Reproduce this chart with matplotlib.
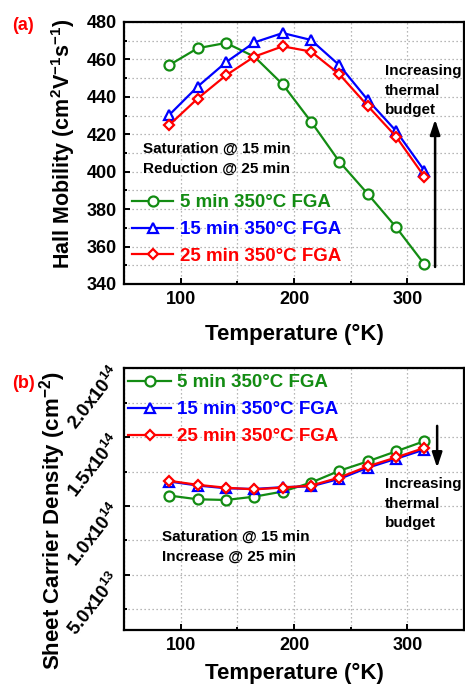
import matplotlib
matplotlib.use("Agg")
import matplotlib.pyplot as plt
from matplotlib.ticker import MultipleLocator, FixedLocator

plt.rcParams['font.family'] = ['Liberation Sans', 'DejaVu Sans']
plt.rcParams['font.weight'] = 'bold'
plt.rcParams['axes.labelweight'] = 'bold'
plt.rcParams['mathtext.fontset'] = 'custom'
plt.rcParams['mathtext.rm'] = 'Liberation Sans:bold'
plt.rcParams['mathtext.bf'] = 'Liberation Sans:bold'
plt.rcParams['mathtext.it'] = 'Liberation Sans:bold:italic'
plt.rcParams['mathtext.default'] = 'bf'

# ---------------- data ----------------
temps = [90, 115, 140, 165, 190, 215, 240, 265, 290, 315]

series_labels = ['5 min 350°C FGA', '15 min 350°C FGA', '25 min 350°C FGA']

mob_5 = [457.0, 466.0, 468.8, 461.5, 446.7, 426.8, 405.4, 388.2, 370.4, 350.6]
mob_15 = [430.4, 445.5, 458.5, 469.1, 474.1, 470.4, 456.9, 438.4, 421.8, 400.6]
mob_25 = [425.0, 439.1, 451.5, 461.5, 467.0, 464.2, 452.1, 435.2, 418.8, 397.4]

dens_5 = [1.076e14, 1.049e14, 1.044e14, 1.068e14, 1.105e14, 1.170e14, 1.256e14, 1.324e14, 1.397e14, 1.471e14]
dens_15 = [1.178e14, 1.149e14, 1.129e14, 1.124e14, 1.137e14, 1.143e14, 1.197e14, 1.278e14, 1.343e14, 1.410e14]
dens_25 = [1.183e14, 1.154e14, 1.133e14, 1.121e14, 1.134e14, 1.148e14, 1.207e14, 1.288e14, 1.353e14, 1.422e14]

dens_ticks = [5e13, 1e14, 1.5e14, 2e14]
dens_ticklabels = ['5.0x10$^{13}$', '1.0x10$^{14}$', '1.5x10$^{14}$', '2.0x10$^{14}$']
dens_minor = [2.5e13, 7.5e13, 1.25e14, 1.75e14]

# ---------------- style ----------------
GREEN = '#138c13'
BLUE = '#0000ff'
RED = '#ff0000'
colors = [GREEN, BLUE, RED]
markers = ['o', '^', 'D']
msizes = [7.2, 7.2, 5.3]

fig = plt.figure(figsize=(4.65, 6.85), dpi=100)
W, H = 465.0, 685.0


def make_axes(top_px, bottom_px):
    return fig.add_axes([124 / W, 1 - bottom_px / H, 340 / W, (bottom_px - top_px) / H])


def style_axes(ax):
    for s in ax.spines.values():
        s.set_linewidth(1.6)
    ax.tick_params(which='both', direction='in', width=1.4, top=False, right=False)
    ax.tick_params(which='major', length=4, labelsize=13, pad=5)
    ax.tick_params(which='minor', length=2.5)
    ax.grid(True, which='both', linestyle=(0, (1, 2.2)), color='#a0a0a0', linewidth=0.9)
    ax.set_axisbelow(True)
    ax.set_xlim(50, 350)
    ax.xaxis.set_major_locator(FixedLocator([100, 200, 300]))
    ax.xaxis.set_minor_locator(MultipleLocator(50))
    for lab in ax.get_xticklabels() + ax.get_yticklabels():
        lab.set_fontweight('bold')


def plot_series(ax, ys_list, hidden=None):
    for i, ys in enumerate(ys_list):
        kw = {}
        if hidden is not None and i == 0:
            kw['markevery'] = [k for k in range(len(temps)) if k != hidden]
        ax.plot(temps, ys, color=colors[i], marker=markers[i], markersize=msizes[i],
                markerfacecolor='white', markeredgecolor=colors[i], markeredgewidth=1.6,
                linewidth=1.6, label=series_labels[i], zorder=3 + i, **kw)


def add_legend(ax, x0, y0, hl, htp):
    leg = ax.legend(loc='upper left', bbox_to_anchor=(x0, y0), frameon=False,
                    borderpad=0, borderaxespad=0, handlelength=hl, handletextpad=htp,
                    labelspacing=0.52, numpoints=1, prop={'size': 13.5, 'weight': 'bold'})
    for t, c in zip(leg.get_texts(), colors):
        t.set_color(c)
    return leg


# ---------------- panel (a) ----------------
ax1 = make_axes(22, 284)
style_axes(ax1)
ax1.set_ylim(340, 480)
ax1.yaxis.set_major_locator(MultipleLocator(20))
ax1.yaxis.set_minor_locator(MultipleLocator(10))
plot_series(ax1, [mob_5, mob_15, mob_25], hidden=3)
add_legend(ax1, 0.0235, 0.343, 2.2, 0.37)
ax1.set_ylabel('Hall Mobility (cm$^{2}$V$^{-1}$s$^{-1}$)', fontsize=15.5)
ax1.yaxis.set_label_coords(-0.138, 0.535)
ax1.set_xlabel('Temperature (°K)', fontsize=16)
ax1.xaxis.set_label_coords(0.5, -0.153)
ax1.text(0.057, 0.501, 'Saturation @ 15 min', transform=ax1.transAxes, fontsize=11,
         fontweight='bold', va='baseline')
ax1.text(0.057, 0.426, 'Reduction @ 25 min', transform=ax1.transAxes, fontsize=11,
         fontweight='bold', va='baseline')
for txt, yy in zip(['Increasing', 'thermal', 'budget'], [0.797, 0.721, 0.648]):
    ax1.text(0.768, yy, txt, transform=ax1.transAxes, fontsize=11, fontweight='bold',
             va='baseline')
ax1.annotate('', xy=(0.915, 0.628), xytext=(0.915, 0.065), xycoords='axes fraction',
             textcoords='axes fraction',
             arrowprops=dict(arrowstyle='-|>,head_length=0.9,head_width=0.3', lw=1.8,
                             color='k', shrinkA=0, shrinkB=0))
fig.text(12 / W, 1 - 25 / H, '(a)', color=RED, fontsize=13, fontweight='bold',
         ha='left', va='center')

# ---------------- panel (b) ----------------
ax2 = make_axes(368.3, 630)
style_axes(ax2)
ax2.set_ylim(1e13, 2e14)
ax2.yaxis.set_major_locator(FixedLocator(dens_ticks))
ax2.yaxis.set_minor_locator(FixedLocator(dens_minor))
ax2.set_yticklabels(dens_ticklabels, rotation=52, rotation_mode='anchor',
                    ha='right', va='center', fontsize=13.5, fontweight='bold')
plot_series(ax2, [dens_5, dens_15, dens_25])
add_legend(ax2, 0.0118, 0.977, 2.3, 0.32)
ax2.set_ylabel('Sheet Carrier Density (cm$^{-2}$)', fontsize=16)
ax2.yaxis.set_label_coords(-0.165, 0.42)
ax2.set_xlabel('Temperature (°K)', fontsize=16)
ax2.xaxis.set_label_coords(0.5, -0.125)
ax2.text(0.112, 0.341, 'Saturation @ 15 min', transform=ax2.transAxes, fontsize=11,
         fontweight='bold', va='baseline')
ax2.text(0.112, 0.265, 'Increase @ 25 min', transform=ax2.transAxes, fontsize=11,
         fontweight='bold', va='baseline')
for txt, yy in zip(['Increasing', 'thermal', 'budget'], [0.544, 0.467, 0.392]):
    ax2.text(0.768, yy, txt, transform=ax2.transAxes, fontsize=11, fontweight='bold',
             va='baseline')
ax2.annotate('', xy=(0.921, 0.62), xytext=(0.921, 0.78), xycoords='axes fraction',
             textcoords='axes fraction',
             arrowprops=dict(arrowstyle='-|>,head_length=0.9,head_width=0.3', lw=1.8,
                             color='k', shrinkA=0, shrinkB=0))
fig.text(12 / W, 1 - 383 / H, '(b)', color=RED, fontsize=13, fontweight='bold',
         ha='left', va='center')

fig.savefig('out.png', dpi=100)
